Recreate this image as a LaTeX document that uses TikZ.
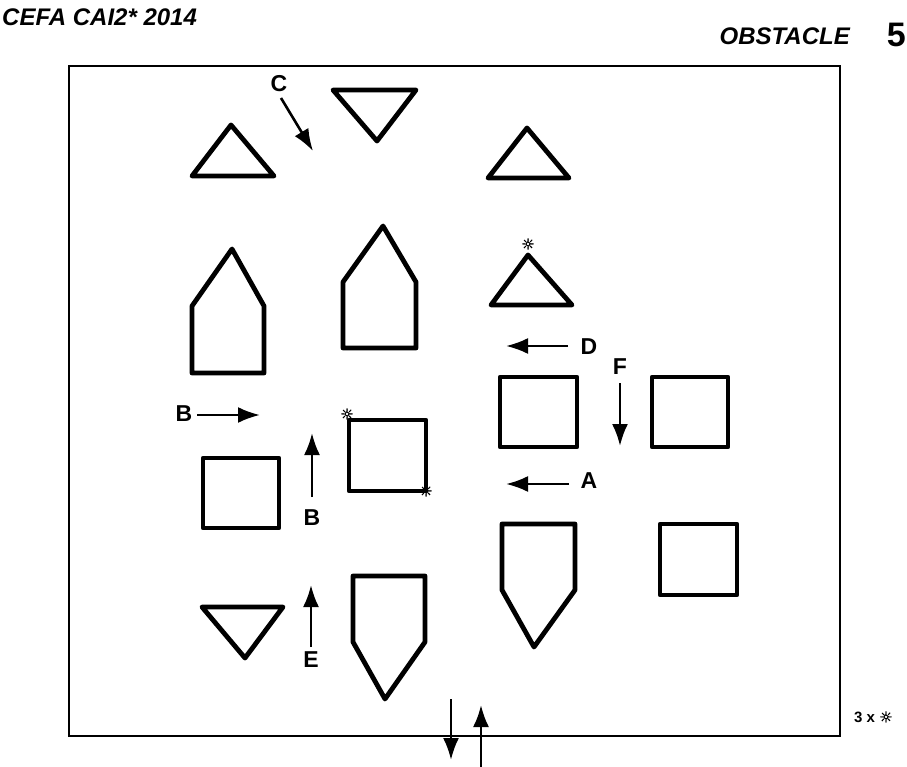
\documentclass[tikz,border=0pt]{standalone}
\usepackage{fontspec}
\setmainfont{Liberation Sans}
\newfontfamily\sunfont[FakeBold=2]{DejaVu Sans}
\usetikzlibrary{arrows.meta}
\begin{document}
\begin{tikzpicture}[x=1pt,y=-1pt,
  obst/.style={line width=4.8pt,line join=round,line cap=round},
  arr/.style={line width=2.6pt,-{Latex[length=22pt,width=16pt]}},
  lbl/.style={font=\fontsize{23}{26}\selectfont\bfseries,inner sep=0pt},
  sun/.style={font=\sunfont\fontsize{15}{16}\selectfont,inner sep=0pt}]
\useasboundingbox (0,0) rectangle (907,767);
% header
\node[anchor=west,inner sep=0pt,font=\fontsize{24}{28}\selectfont\bfseries\itshape] (hd) at (2,17) {CEFA CAI2* 2014};
\node[anchor=east,inner sep=0pt,font=\fontsize{24}{28}\selectfont\bfseries\itshape] (ob) at (850,36) {OBSTACLE};
\node[anchor=east,inner sep=0pt,font=\fontsize{34}{38}\selectfont\bfseries] (num) at (906,35) {5};
% frame
\node[draw,line width=1.4pt,minimum width=771pt,minimum height=670pt,inner sep=0pt] (frame) at (454.5,401) {};
% top row
\draw[obst] (231,125) -- (274,176) -- (192,176) -- cycle;
\draw[obst] (333,90) -- (416,90) -- (377,141) -- cycle;
\draw[obst] (527,128) -- (569,178) -- (488,178) -- cycle;
% houses
\draw[obst] (232,249) -- (264,306) -- (264,373) -- (192,373) -- (192,306) -- cycle;
\draw[obst] (383,226) -- (416,282) -- (416,348) -- (343,348) -- (343,282) -- cycle;
\draw[obst] (528,255) -- (572,305) -- (491,305) -- cycle;
% squares
\draw[obst] (500,377) rectangle (577,447);
\draw[obst] (652,377) rectangle (728,447);
\draw[obst] (203,458) rectangle (279,528);
\draw[obst] (349,420) rectangle (426,491);
\draw[obst] (660,524) rectangle (737,595);
% bottom
\draw[obst] (202,607) -- (283,607) -- (245,658) -- cycle;
\draw[obst] (353,576) -- (425,576) -- (425,642) -- (385,699) -- (353,642) -- cycle;
\draw[obst] (502,524) -- (575,524) -- (575,590) -- (534,647) -- (502,590) -- cycle;
% suns
\node[sun] (s1) at (528,244) {☼};
\node[sun] (s2) at (347,414) {☼};
\node[sun] (s3) at (426,491) {☼};
% labels
\node[lbl] (C) at (279,84) {C};
\node[lbl] (D) at (589,347) {D};
\node[lbl] (F) at (620,367) {F};
\node[lbl] (B1) at (184,414) {B};
\node[lbl] (B2) at (312,518) {B};
\node[lbl] (A) at (589,481) {A};
\node[lbl] (E) at (311,660) {E};
% arrow coordinates
\coordinate (c1) at (281,98);   \coordinate (c2) at (313,151);
\coordinate (d1) at (568,346);  \coordinate (d2) at (506,346);
\coordinate (f1) at (620,383);  \coordinate (f2) at (620,446);
\coordinate (b1) at (197,415);  \coordinate (b2) at (260,415);
\coordinate (b3) at (312,497);  \coordinate (b4) at (312,433);
\coordinate (a1) at (569,484);  \coordinate (a2) at (506,484);
\coordinate (e1) at (311,647);  \coordinate (e2) at (311,585);
\coordinate (g1) at (451,699);  \coordinate (g2) at (451,760);
\coordinate (h1) at (481,767);  \coordinate (h2) at (481,705);
\draw[arr] (c1) -- (c2);
\draw[arr] (d1) -- (d2);
\draw[arr] (f1) -- (f2);
\draw[arr] (b1) -- (b2);
\draw[arr] (b3) -- (b4);
\draw[arr] (a1) -- (a2);
\draw[arr] (e1) -- (e2);
\draw[arr] (g1) -- (g2);
\draw[arr] (h1) -- (h2);
% legend
\node[anchor=west,inner sep=0pt,font=\fontsize{15}{17}\selectfont\bfseries] (leg) at (854,717) {3 x {\sunfont ☼}};
\end{tikzpicture}
\end{document}
